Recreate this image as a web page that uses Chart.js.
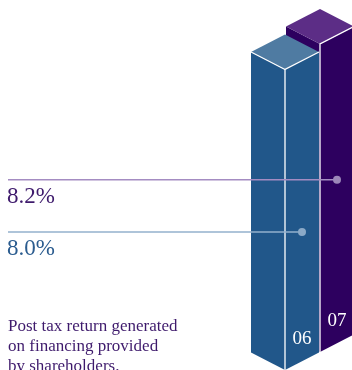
<!DOCTYPE html>
<html>
<head>
<meta charset="utf-8">
<script src="https://cdn.jsdelivr.net/npm/chart.js@4/dist/chart.umd.min.js"></script>
<style>
  html, body { margin: 0; padding: 0; background: #fff; }
  #wrap { width: 352px; height: 370px; }
</style>
</head>
<body>
<div id="wrap"><canvas id="returnChart" width="352" height="370"></canvas></div>
<script>
// --- Data ---
const years = ["06", "07"];
const returns = [8.0, 8.2];
const captionLines = ["Post tax return generated", "on financing provided", "by shareholders."];

// --- Colours per year ---
const faceColors = ["#21578a", "#2d005f"];
const topColors = ["#4f7ba2", "#5c2d86"];
const leaderColors = ["#93b0cd", "#a48cc2"];
const dotColors = ["#8ba9c7", "#9c87b9"];
const labelColors = ["#2b5c8f", "#3e1a6c"];

const SERIF = "'Liberation Serif', 'DejaVu Serif', serif";
const SLOPE = 0.515; // isometric rise per px of depth

function fillPoly(ctx, pts, fill) {
  ctx.beginPath();
  ctx.moveTo(pts[0][0], pts[0][1]);
  for (let k = 1; k < pts.length; k++) ctx.lineTo(pts[k][0], pts[k][1]);
  ctx.closePath();
  ctx.fillStyle = fill;
  ctx.fill();
}

function strokePath(ctx, pts) {
  ctx.beginPath();
  ctx.moveTo(pts[0][0], pts[0][1]);
  for (let k = 1; k < pts.length; k++) ctx.lineTo(pts[k][0], pts[k][1]);
  ctx.stroke();
}

// --- 3D prisms, leader lines and labels ---
const prismPlugin = {
  id: "prisms",
  afterDatasetsDraw(chart) {
    const ctx = chart.ctx;
    const meta = chart.getDatasetMeta(0);
    const xs = chart.scales.x;
    const y2 = chart.scales.y2;
    const step = xs.getPixelForValue(1) - xs.getPixelForValue(0);
    const w = step - 1;
    const dy = w * SLOPE;

    ctx.save();
    ctx.strokeStyle = "#ffffff";
    ctx.lineWidth = 1.3;

    // back bar first so the front one overlaps it
    for (let i = meta.data.length - 1; i >= 0; i--) {
      const bar = meta.data[i];
      const lift = i * step * SLOPE;
      const x = bar.x;
      const top = bar.y - lift;
      const base = bar.base - lift;

      fillPoly(ctx, [[x - w, top - dy], [x, top], [x, base], [x - w, base - dy]], faceColors[i]);
      fillPoly(ctx, [[x, top], [x + w, top - dy], [x + w, base - dy], [x, base]], faceColors[i]);
      fillPoly(ctx, [[x, top], [x - w, top - dy], [x, top - 2 * dy], [x + w, top - dy]], topColors[i]);

      // white edges: front corner and the lower rim of the lid
      ctx.strokeStyle = "#ffffff";
      ctx.lineWidth = 1.3;
      strokePath(ctx, [[x, base], [x, top], [x + w, top - dy]]);
      if (i === 0) strokePath(ctx, [[x - w, top - dy], [x, top]]);

      ctx.fillStyle = "#ffffff";
      ctx.font = "19px " + SERIF;
      ctx.textAlign = "center";
      ctx.textBaseline = "alphabetic";
      ctx.fillText(years[i], x + w / 2, base - dy / 2 - 17);
    }

    // leader lines to each bar
    meta.data.forEach((bar, i) => {
      const y = y2.getPixelForValue(returns[i]);
      const dotX = bar.x + w / 2;
      ctx.beginPath();
      ctx.moveTo(8, y);
      ctx.lineTo(dotX, y);
      ctx.strokeStyle = leaderColors[i];
      ctx.lineWidth = 1.5;
      ctx.stroke();
      ctx.beginPath();
      ctx.arc(dotX, y, 4, 0, Math.PI * 2);
      ctx.fillStyle = dotColors[i];
      ctx.fill();

      ctx.fillStyle = labelColors[i];
      ctx.font = "23px " + SERIF;
      ctx.textAlign = "left";
      ctx.fillText(returns[i].toFixed(1) + "%", 7, y + 23);
    });

    // caption
    ctx.fillStyle = "#3e1a6c";
    ctx.font = "17px " + SERIF;
    ctx.textAlign = "left";
    captionLines.forEach((line, k) => ctx.fillText(line, 8, 331 + k * 20));
    ctx.restore();
  }
};

new Chart(document.getElementById("returnChart"), {
  type: "bar",
  data: {
    labels: years,
    datasets: [{
      data: returns,
      backgroundColor: "rgba(0,0,0,0)",
      borderWidth: 0
    }]
  },
  options: {
    responsive: false,
    devicePixelRatio: 1,
    animation: false,
    layout: { padding: { left: 267.5, right: 14.5, top: 0, bottom: 0 } },
    plugins: { legend: { display: false }, tooltip: { enabled: false } },
    scales: {
      x: { display: false, offset: true },
      y: { display: false, min: 0, max: 9.85 },
      y2: { display: false, min: 7.47, max: 8.89 }
    }
  },
  plugins: [prismPlugin]
});
</script>
</body>
</html>
